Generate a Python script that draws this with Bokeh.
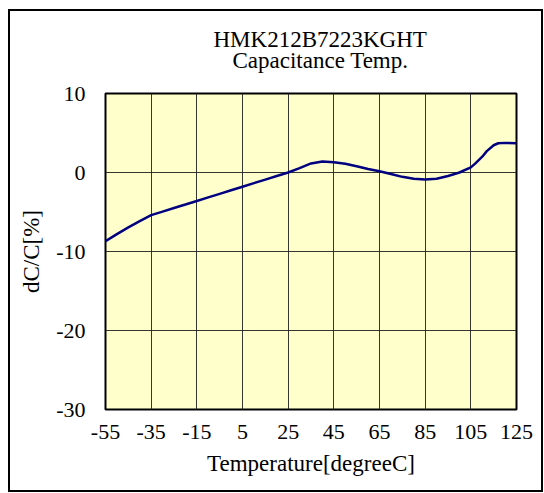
from bokeh.plotting import figure
from bokeh.models import FixedTicker, Range1d, Title
from bokeh.embed import file_html
from bokeh.resources import INLINE

temps = [-55, -50, -45, -40, -35, -30, -25, -20, -15, -10, -5, 0, 5, 10, 15, 20, 25,
         30, 35, 40, 45, 50, 55, 60, 65, 70, 75, 80, 85, 90, 95, 100, 105, 107, 110,
         112, 115, 117, 120, 125]
dcc = [-8.7, -7.8, -6.95, -6.15, -5.4, -4.95, -4.5, -4.05, -3.6, -3.15, -2.7, -2.25, -1.8,
       -1.35, -0.9, -0.45, 0.0, 0.55, 1.15, 1.4, 1.3, 1.1, 0.8, 0.45, 0.15, -0.2, -0.55,
       -0.8, -0.9, -0.8, -0.45, 0.0, 0.65, 1.15, 2.0, 2.7, 3.45, 3.7, 3.75, 3.7]

x_ticks = [-55, -35, -15, 5, 25, 45, 65, 85, 105, 125]
x_tick_labels = ["-55", "-35", "-15", "5", "25", "45", "65", "85", "105", "125"]
y_ticks = [-30, -20, -10, 0, 10]
y_tick_labels = ["-30", "-20", "-10", "0", "10"]

title_line1 = "HMK212B7223KGHT"
title_line2 = "Capacitance Temp."
x_label = "Temperature[degreeC]"
y_label = "dC/C[%]"

FONT = "Liberation Serif"

p = figure(frame_width=411, frame_height=316,
           x_range=Range1d(-55, 125), y_range=Range1d(-30, 10),
           output_backend="svg", toolbar_location=None,
           min_border_left=95, min_border_right=25,
           min_border_top=82, min_border_bottom=81,
           background_fill_color="#FFFFCC", border_fill_color="white")
p.styles = {"border": "2px solid black", "margin-left": "8px", "margin-top": "9px"}

p.outline_line_color = "black"
p.outline_line_width = 2

def make_title(txt, standoff, offset):
    return Title(text=txt, align="left", offset=offset, text_font=FONT,
                 text_font_size="23px", text_font_style="normal",
                 text_color="black", standoff=standoff)

# spacer between frame and the two title lines, then line 2, then line 1
p.add_layout(make_title(" ", -3, 0), "above")
p.add_layout(make_title(title_line2, -6, 127), "above")
p.add_layout(make_title(title_line1, -6, 108), "above")

p.line(temps, dcc, line_color="#000080", line_width=2.5, line_join="round")

for ax in (p.xaxis[0], p.yaxis[0]):
    ax.axis_line_color = None
    ax.major_tick_line_color = None
    ax.minor_tick_line_color = None
    ax.major_tick_in = 0
    ax.major_tick_out = 0
    ax.minor_tick_in = 0
    ax.minor_tick_out = 0
    ax.major_label_text_font = FONT
    ax.major_label_text_font_size = "22px"
    ax.major_label_text_color = "black"
    ax.axis_label_text_font = FONT
    ax.axis_label_text_font_size = "23px"
    ax.axis_label_text_font_style = "normal"
    ax.axis_label_text_color = "black"

p.xaxis[0].ticker = FixedTicker(ticks=x_ticks)
p.yaxis[0].ticker = FixedTicker(ticks=y_ticks)
p.xaxis[0].major_label_overrides = dict(zip(x_ticks, x_tick_labels))
p.yaxis[0].major_label_overrides = dict(zip(y_ticks, y_tick_labels))
p.xaxis[0].axis_label = x_label
p.yaxis[0].axis_label = y_label
p.xaxis[0].major_label_standoff = 15
p.yaxis[0].major_label_standoff = 20
p.xaxis[0].axis_label_standoff = 9
p.yaxis[0].axis_label_standoff = 9

p.xgrid[0].ticker = FixedTicker(ticks=x_ticks)
p.ygrid[0].ticker = FixedTicker(ticks=y_ticks)
p.grid.grid_line_color = "#202020"
p.grid.grid_line_alpha = 0.9
p.grid.grid_line_width = 1

open("out.html", "w").write(file_html(p, INLINE))
